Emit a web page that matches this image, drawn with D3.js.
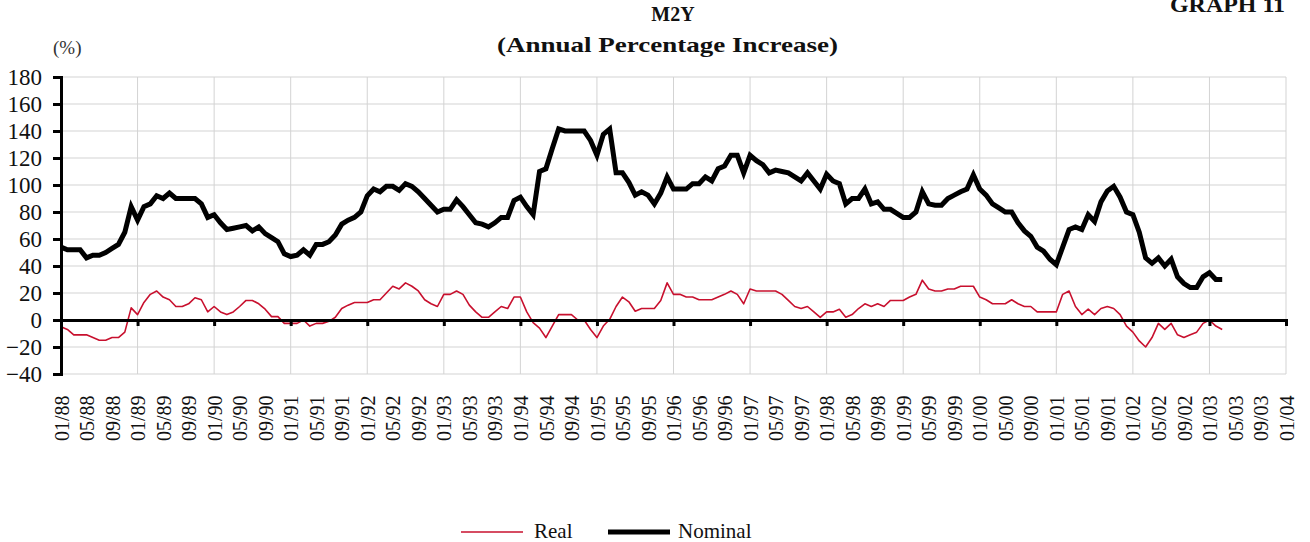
<!DOCTYPE html>
<meta charset="utf-8">
<head>
<style>
body { margin: 0; background: #fff; }
svg text { font-family: 'Liberation Serif', 'Times New Roman', serif; fill: #111; }
.grid line { stroke: #d3d3d3; stroke-width: 1; }
.title { font-weight: bold; }
</style>
<title>M2Y</title>
</head>
<body>
<svg id="graphic" width="1310" height="542"></svg>
<script src="https://d3js.org/d3.v7.min.js"></script>
<script>
// months from 01/88 (index 0) to 01/04 (index 192)
var startYear = 1988;
var nMonths = 193;

// nominal M2Y growth, 01/88 .. 03/03
var nominal = [
  54, 52, 52, 52, 46, 48, 48, 50, 53, 56,
  65, 84, 74, 84, 86, 92, 90, 94, 90, 90,
  90, 90, 86, 76, 78, 72, 67, 68, 69, 70,
  66, 69, 64, 61, 58, 49, 47, 48, 52, 48,
  56, 56, 58, 63, 71, 74, 76, 80, 92, 97,
  95, 99, 99, 96, 101, 99, 95, 90, 85, 80,
  82, 82, 89, 84, 78, 72, 71, 69, 72, 76,
  76, 88.5, 91, 84, 78, 110, 112, 127, 141.5, 140,
  140, 140, 140, 133, 122, 137.5, 141.5, 109, 109, 102,
  92.5, 95, 92.5, 86, 94, 106, 97, 97, 97, 101,
  101, 106, 103, 112, 114, 122, 122, 109, 122, 118,
  115, 109, 111, 110, 109, 106, 103, 109, 103, 97,
  108, 103, 101, 86, 90, 90, 97, 86, 87.5, 82,
  82, 79, 76, 76, 80, 95, 86, 85, 85, 90,
  92.5, 95, 97, 107.5, 97, 92.5, 86, 83, 80, 80,
  72, 66, 62, 54, 51, 45, 41, 54, 67, 69,
  67, 78, 73, 87.5, 95.5, 99, 91, 80, 78, 65,
  46, 42, 46, 40, 45, 32, 27, 24, 24, 32,
  35, 30, 30
];

// real M2Y growth, 01/88 .. 03/03
var real = [
  -5, -7, -11, -11, -11, -13, -15, -15, -13, -13,
  -9, 9, 4, 13, 19, 21.5, 17, 15, 10, 10,
  12, 16.5, 15, 6, 10, 6, 4, 6, 10, 14.5,
  14.5, 12, 8, 2.5, 2.5, -2.5, -2.5, -2.5, 0, -4.5,
  -2.5, -2.5, -1, 2, 8.5, 11, 13, 13, 13, 15,
  15, 20, 25, 23, 27.5, 25, 21.5, 15, 12, 10,
  19, 19, 21.5, 19, 11, 6, 2, 2, 6, 10,
  8.5, 17, 17, 6, -2, -6, -13, -4.5, 4, 4,
  4, 0, 0, -7, -13, -4.5, 0.5, 10, 17, 13.5,
  6.5, 8.5, 8.5, 8.5, 14.5, 27.5, 19, 19, 17, 17,
  15, 15, 15, 17, 19, 21.5, 19, 12, 23, 21.5,
  21.5, 21.5, 21.5, 19, 14.5, 10, 8.5, 10, 6, 2,
  6, 6, 8, 2, 4, 8.5, 12, 10, 12, 10,
  14.5, 14.5, 14.5, 17, 19, 29.5, 23, 21.5, 21.5, 23,
  23, 25, 25, 25, 17, 15, 12, 12, 12, 15,
  12, 10, 10, 6, 6, 6, 6, 19, 21.5, 10,
  4, 8, 4, 8.5, 10, 8.5, 4, -4.5, -9, -15.5,
  -20, -13, -2.5, -7, -2.5, -11, -13, -11, -9, -2.5,
  0, -4.5, -7
];

var yTicks = [-40, -20, 0, 20, 40, 60, 80, 100, 120, 140, 160, 180];

function monthLabel(i) {
  var m = i % 12 + 1, y = (startYear + Math.floor(i / 12)) % 100;
  return (m < 10 ? "0" : "") + m + "/" + (y < 10 ? "0" : "") + y;
}

var svg = d3.select("svg");
var plotL = 61, plotR = 1286, plotT = 77, plotB = 374;

var x = d3.scaleLinear().domain([0, nMonths - 1]).range([plotL, plotR]);
var y = d3.scaleLinear().domain([-40, 180]).range([plotB, plotT]);

var yearIdx = d3.range(0, nMonths, 12);
var labelIdx = d3.range(0, nMonths, 4);

// grid
var grid = svg.append("g").attr("class", "grid");
grid.selectAll("line.h").data(yTicks).enter().append("line")
    .attr("x1", plotL).attr("x2", plotR)
    .attr("y1", function(d) { return y(d); }).attr("y2", function(d) { return y(d); });
grid.selectAll("line.v").data(yearIdx.slice(1)).enter().append("line")
    .attr("x1", function(d) { return x(d); }).attr("x2", function(d) { return x(d); })
    .attr("y1", plotT).attr("y2", plotB);

// series
var line = d3.line().x(function(d, i) { return x(i); }).y(function(d) { return y(d); });

svg.append("path").datum(real)
    .attr("fill", "none").attr("stroke", "#c8102e").attr("stroke-width", 1.6)
    .attr("stroke-linejoin", "round")
    .attr("d", line);

svg.append("path").datum(nominal)
    .attr("fill", "none").attr("stroke", "#000").attr("stroke-width", 5)
    .attr("stroke-linejoin", "miter")
    .attr("d", line);

// zero axis with yearly ticks
var zeroAxis = d3.axisBottom(x).tickValues(yearIdx.slice(1, -1)).tickSize(6).tickFormat("");
var za = svg.append("g").attr("transform", "translate(0," + y(0) + ")").call(zeroAxis);
za.select(".domain").attr("stroke", "#000").attr("stroke-width", 3);
za.selectAll(".tick line").attr("stroke", "#000").attr("stroke-width", 3);

// y axis
var yAxis = d3.axisLeft(y).tickValues(yTicks).tickSize(8).tickPadding(11).tickFormat(d3.format("d"));
var ya = svg.append("g").attr("transform", "translate(" + plotL + ",0)").call(yAxis);
ya.select(".domain").attr("stroke", "#000").attr("stroke-width", 3);
ya.selectAll(".tick line").attr("stroke", "#000").attr("stroke-width", 3);
ya.selectAll(".tick text").attr("font-size", 23).attr("fill", "#111");

// month labels
var xl = svg.append("g");
xl.selectAll("text").data(labelIdx).enter().append("text")
    .attr("transform", function(d) { return "translate(" + (x(d) + 1) + ",441) rotate(-90)"; })
    .attr("dy", "0.33em")
    .attr("font-size", 20)
    .attr("text-anchor", "start")
    .text(monthLabel);

// titles
svg.append("text").attr("class", "title").attr("x", 673).attr("y", 21)
    .attr("text-anchor", "middle").attr("font-size", 20).text("M2Y");
svg.append("text").attr("class", "title").attr("x", 497).attr("y", 52)
    .attr("font-size", 21).attr("textLength", 341).attr("lengthAdjust", "spacingAndGlyphs")
    .text("(Annual Percentage Increase)");
svg.append("text").attr("class", "title").attr("x", 1170).attr("y", 12)
    .attr("font-size", 22).attr("textLength", 115).attr("lengthAdjust", "spacingAndGlyphs")
    .text("GRAPH 11");
svg.append("text").attr("x", 53).attr("y", 54).attr("font-size", 19)
    .style("fill", "#333").text("(%)");

// legend
var legend = svg.append("g");
legend.append("line").attr("x1", 461).attr("x2", 523).attr("y1", 532).attr("y2", 532)
    .attr("stroke", "#c8102e").attr("stroke-width", 1.6);
legend.append("text").attr("x", 534).attr("y", 538).attr("font-size", 21).text("Real");
legend.append("line").attr("x1", 608).attr("x2", 670).attr("y1", 532).attr("y2", 532)
    .attr("stroke", "#000").attr("stroke-width", 5);
legend.append("text").attr("x", 678).attr("y", 538).attr("font-size", 21).text("Nominal");
</script>
</body>
